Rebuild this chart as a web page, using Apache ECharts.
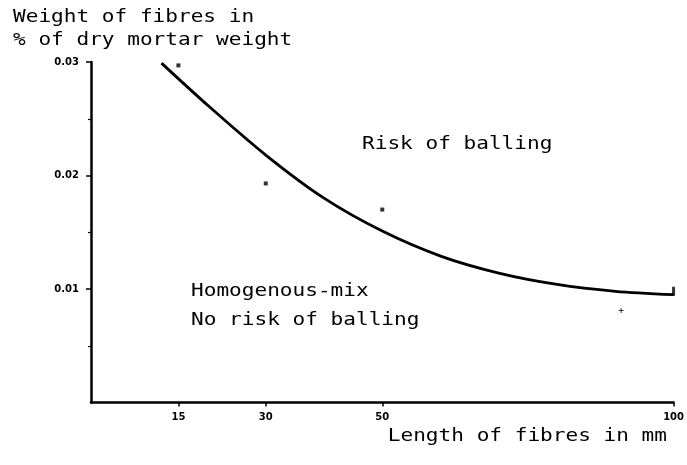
<!DOCTYPE html>
<html>
<head>
<meta charset="utf-8">
<script src="https://cdn.jsdelivr.net/npm/echarts@6/dist/echarts.min.js"></script>
<style>
  html, body { margin: 0; padding: 0; background: #fff; }
  #chart { width: 687px; height: 465px; }
</style>
</head>
<body>
<div id="chart"></div>
<script>
// Measured fibre contents (length in mm, weight % of dry mortar)
const pointLengths = [15, 30, 50, 91, 100];
const pointWeights = [0.0297, 0.0193, 0.0170, 0.0081, 0.0098];

// Fitted boundary curve between the two mixing regimes
const curveLengths = [12.1, 20, 30, 40, 50, 60, 70, 80, 90, 100];
const curveWeights = [0.0299, 0.0262, 0.0218, 0.0180, 0.0151, 0.0129, 0.0114, 0.0104, 0.0098, 0.0095];

// Axis tick labels
const xTicks = [15, 30, 50, 100];
const yTicks = [0.01, 0.02, 0.03];

const yTitle = ['Weight of fibres in', '% of dry mortar weight'];
const xTitle = 'Length of fibres in mm';
const regionAbove = 'Risk of balling';
const regionBelow = ['Homogenous-mix', 'No risk of balling'];

const ink = '#000';
const mono = '17px "DejaVu Sans Mono", monospace';
const stretch = 1.24;

function printed(text, x, y, align) {
  return {
    type: 'text', x: x, y: y, scaleX: stretch, silent: true,
    style: { text: text, x: 0, y: 0, font: mono, fill: ink,
             textAlign: align || 'left', textVerticalAlign: 'top' }
  };
}

const chart = echarts.init(document.getElementById('chart'), null, { renderer: 'canvas' });

chart.setOption({
  animation: false,
  backgroundColor: '#fff',
  grid: { left: 91, right: 10, top: 62, bottom: 62.5 },
  xAxis: {
    type: 'value', min: 0, max: 100, interval: 5,
    axisLine: { show: true, lineStyle: { color: ink, width: 2.5 } },
    axisTick: { show: true, customValues: xTicks, length: 4, lineStyle: { color: ink, width: 1.5 } },
    axisLabel: { customValues: xTicks, color: ink, fontFamily: 'DejaVu Sans', fontWeight: 'bold', fontSize: 10, margin: 10 },
    splitLine: { show: false }
  },
  yAxis: {
    type: 'value', min: 0, max: 0.03, interval: 0.01,
    axisLine: { show: true, lineStyle: { color: ink, width: 2.5 } },
    axisTick: { show: true, customValues: yTicks, length: 5, lineStyle: { color: ink, width: 1.5 } },
    minorTick: { show: true, splitNumber: 2, length: 3, lineStyle: { color: ink, width: 1.2 } },
    axisLabel: {
      customValues: yTicks, color: ink, fontFamily: 'DejaVu Sans', fontWeight: 'bold', fontSize: 10, margin: 12,
      formatter: function (v) { return v.toFixed(2); }
    },
    splitLine: { show: false }
  },
  series: [
    {
      type: 'line', smooth: 0.3, symbol: 'none',
      data: curveLengths.map(function (x, i) { return [x, curveWeights[i]]; }),
      lineStyle: { color: ink, width: 2.8 }
    },
    {
      type: 'scatter', symbol: 'rect', symbolSize: 4,
      itemStyle: { color: ink },
      data: pointLengths.map(function (x, i) {
        const item = { value: [x, pointWeights[i]] };
        if (x === 91) { item.symbol = 'path://M2,0H3V2H5V3H3V5H2V3H0V2H2Z'; item.symbolSize = 5; }
        if (x === 100) { item.symbolSize = [3, 9]; }
        return item;
      })
    }
  ],
  graphic: [
    printed(yTitle[0], 13, 9),
    printed(yTitle[1], 13, 32),
    printed(regionAbove, 362, 136),
    printed(regionBelow[0], 191, 283),
    printed(regionBelow[1], 191, 312),
    printed(xTitle, 667, 428, 'right')
  ]
});
</script>
</body>
</html>
